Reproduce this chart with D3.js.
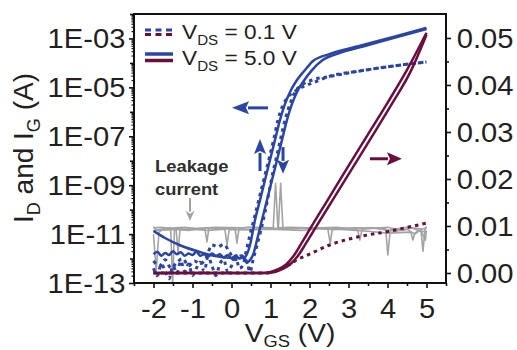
<!DOCTYPE html>
<html><head><meta charset="utf-8">
<script src="https://cdn.jsdelivr.net/npm/d3@7"></script>
<style>
body{margin:0;background:#fff}
svg{display:block}
text{font-family:"Liberation Sans",Arial,Helvetica,sans-serif;fill:#231f20}
</style>
</head><body>
<svg id="c" width="517" height="350"></svg>
<script>
// ---------- tick values ----------
const xTicks = [-2, -1, 0, 1, 2, 3, 4, 5];
const xMinorTicks = [-2.5, -1.5, -0.5, 0.5, 1.5, 2.5, 3.5, 4.5, 5.5];
const leftLabelTicks = [1e-3, 1e-5, 1e-7, 1e-9, 1e-11, 1e-13];
const leftDecadeTicks = [1e-2, 1e-4, 1e-6, 1e-8, 1e-10, 1e-12];
const rightTicks = [0, 0.01, 0.02, 0.03, 0.04, 0.05];
const rightMinorTicks = [0.005, 0.015, 0.025, 0.035, 0.045];

// ---------- I_D, V_DS = 5.0 V (log axis) : two sweeps ----------
const id5a = [[-2,1.35e-11],[-1.705,6.9e-12],[-1.321,3.5e-12],[-0.808,1.85e-12],[-0.423,1.27e-12],[0.09,1.05e-12],[0.321,1.05e-12],[0.397,1.54e-12],[0.474,3.5e-12],[0.603,3.8e-11],[0.731,2.45e-10],[0.859,1.62e-9],[0.987,1.07e-8],[1.115,7.1e-8],[1.244,4.7e-7],[1.372,2.1e-6],[1.526,7.8e-6],[1.679,2.0e-5],[1.885,5.1e-5],[2.09,1.2e-4],[2.526,2.35e-4],[3.372,5.4e-4],[4.244,1.26e-3],[5,2.7e-3]];
const id5b = [[-2,1.5e-12],[-1.9,1.9e-12],[-1.8,1.3e-12],[-1.7,1.7e-12],[-1.6,1.4e-12],[-1.5,2.0e-12],[-1.4,1.5e-12],[-1.3,1.8e-12],[-1.2,1.3e-12],[-1.1,1.6e-12],[-1.0,1.4e-12],[-0.9,1.9e-12],[-0.8,1.3e-12],[-0.7,1.5e-12],[-0.6,1.2e-12],[-0.5,1.6e-12],[-0.4,1.3e-12],[-0.3,1.5e-12],[-0.2,1.1e-12],[-0.1,1.4e-12],[0,1.0e-12],[0.1,1.3e-12],[0.2,1.0e-12],[0.3,1.2e-12],[0.397,6.6e-13],[0.474,8.7e-13],[0.551,1.4e-12],[0.654,5.7e-12],[0.782,3.8e-11],[0.91,2.45e-10],[1.038,1.62e-9],[1.167,1.07e-8],[1.295,7.1e-8],[1.423,4.7e-7],[1.551,2.1e-6],[1.679,6.5e-6],[1.833,1.66e-5],[2.064,5.1e-5],[2.321,1.25e-4],[2.782,2.6e-4],[3.372,4.7e-4],[4.244,1.15e-3],[5,2.4e-3]];

// ---------- I_D, V_DS = 0.1 V (log axis) : two sweeps ----------
const id01a = [[-2,4e-13],[-1.9,2e-13],[-1.8,6e-13],[-1.7,3e-13],[-1.6,1.5e-13],[-1.5,5e-13],[-1.4,2.5e-13],[-1.3,8e-13],[-1.2,3e-13],[-1.1,6e-13],[-1.0,2e-13],[-0.9,4e-13],[-0.8,7e-13],[-0.7,3e-13],[-0.6,1.2e-12],[-0.5,5e-13],[-0.4,2e-13],[-0.3,6e-13],[-0.2,9e-13],[-0.1,3e-13],[0,5e-13],[0.1,1.5e-12],[0.2,4e-13],[0.295,5.4e-13],[0.372,1.85e-12],[0.474,9.2e-12],[0.603,6.0e-11],[0.731,4.0e-10],[0.859,2.6e-9],[0.987,1.74e-8],[1.09,8.5e-8],[1.192,4.7e-7],[1.321,1.9e-6],[1.474,4.5e-6],[1.679,7.8e-6],[1.885,1.15e-5],[2.141,1.66e-5],[2.474,2.7e-5],[3.295,4.7e-5],[4.192,7.6e-5],[5,1.1e-4]];
const id01b = [[-2,8e-13],[-1.85,5e-13],[-1.7,9e-13],[-1.55,4e-13],[-1.4,7e-13],[-1.25,1.0e-12],[-1.1,5e-13],[-0.95,8e-13],[-0.8,6e-13],[-0.65,1.1e-12],[-0.5,3.6e-12],[-0.35,3.0e-12],[-0.2,3.8e-12],[-0.05,1.8e-12],[0.1,9e-13],[0.25,1.3e-12],[0.4,7e-13],[0.474,2.8e-13],[0.551,8.7e-13],[0.654,3.5e-12],[0.756,1.48e-11],[0.859,7.9e-11],[0.962,5.2e-10],[1.064,3.5e-9],[1.167,1.74e-8],[1.269,9.3e-8],[1.372,4.7e-7],[1.5,2.1e-6],[1.628,6.5e-6],[1.808,1.26e-5],[2.064,2.0e-5],[2.474,2.7e-5],[3.295,4.7e-5],[4.192,7.6e-5],[5,1.1e-4]];

// ---------- I_D linear (right axis) ----------
const lin5a = [[-2,0],[0.8,0],[1.0,0.0002],[1.2,0.0008],[1.4,0.0018],[1.6,0.0037],[1.8,0.0064],[2.0,0.0092],[2.5,0.0160],[3.0,0.0228],[3.5,0.0295],[4.0,0.0362],[4.5,0.0432],[5.0,0.0511]];
const lin5b = [[-2,0],[0.9,0],[1.1,0.0002],[1.3,0.0008],[1.5,0.0018],[1.7,0.0036],[1.9,0.0062],[2.1,0.0089],[2.6,0.0156],[3.1,0.0223],[3.6,0.0290],[4.1,0.0358],[4.6,0.0430],[5.0,0.0507]];
const lin01 = [[-2,0],[0.9,0],[1.1,0.0003],[1.3,0.0010],[1.5,0.0019],[1.7,0.0029],[2.0,0.0040],[2.5,0.0059],[3.0,0.0072],[3.5,0.0081],[4.0,0.0088],[4.5,0.0097],[5.0,0.0106]];

// ---------- I_G leakage (log axis) ----------
const ig1 = [[-2,1.8e-11],[-1.8,1.9e-11],[-1.56,1.7e-11],[-1.51,1.0e-13],[-1.46,1.8e-11],[-1.2,1.9e-11],[-0.9,1.7e-11],[-0.4,1.9e-11],[0.25,1.8e-11],[0.6,1.9e-11],[1.07,1.8e-11],[1.13,1.2e-9],[1.19,1.8e-11],[1.5,1.9e-11],[2.0,1.8e-11],[2.47,1.6e-11],[2.53,4.3e-12],[2.59,1.7e-11],[3.2,1.8e-11],[3.95,1.7e-11],[4.01,1.4e-12],[4.07,1.5e-11],[4.5,1.9e-11],[4.9,1.6e-11],[5,1.8e-11]];
const ig2 = [[-2,2.0e-11],[-1.9,1.4e-11],[-1.42,1.6e-11],[-1.37,1.7e-12],[-1.32,1.5e-11],[-1.0,1.5e-11],[-0.68,1.6e-11],[-0.63,4.8e-12],[-0.58,1.7e-11],[0.5,1.5e-11],[0.9,1.7e-11],[1.2,1.7e-11],[1.26,1.2e-9],[1.32,1.6e-11],[2.2,1.8e-11],[2.6,1.5e-11],[3.1,1.7e-11],[3.24,1.4e-11],[3.29,5.7e-12],[3.35,1.6e-11],[4.0,1.9e-11],[4.4,1.4e-11],[4.6,1.8e-11],[4.86,1.3e-11],[4.91,2.0e-12],[4.96,1.5e-11],[5,2.0e-11]];
const ig3 = [[-2,1.0e-11],[-1.93,3e-13],[-1.86,1.2e-11],[-1.75,1.6e-11],[-1.3,1.5e-11],[-1.1,1.4e-11],[-0.95,1.6e-11],[-0.6,1.4e-11],[-0.17,1.6e-11],[-0.115,3.6e-12],[-0.06,1.5e-11],[0.4,1.5e-11],[1.0,1.6e-11],[1.8,1.4e-11],[2.3,1.7e-11],[2.9,1.5e-11],[3.5,1.3e-11],[4.0,1.1e-11],[4.6,1.2e-11],[4.65,5.7e-12],[4.7,1.1e-11],[4.8,1.4e-11],[5,1.2e-11]];
const ig4 = [[-2,1.4e-11],[-1.6,1.8e-11],[-1.2,1.6e-11],[-0.5,1.8e-11],[0.09,1.7e-11],[0.14,4.3e-12],[0.19,1.6e-11],[0.4,1.9e-11],[0.9,1.7e-11],[1.6,1.7e-11],[2.7,1.9e-11],[3.1,1.6e-11],[3.6,1.8e-11],[4.2,1.3e-11],[4.5,1.6e-11],[4.7,1.0e-11],[4.85,1.5e-11],[4.97,5.7e-12],[5,1.4e-11]];

// ---------- annotation arrows (data units) ----------
const arrowLeft = {x0: 0.936, x1: 0.013, i: 1.45e-6};
const arrowRight = {x0: 3.55, x1: 4.37, v: 0.0243};
const arrowUp = {v: 0.731, i0: 3.8e-9, i1: 7.8e-8};
const arrowDown = {v: 1.321, i0: 3.6e-8, i1: 2.9e-9};
const arrowLeak = {v: -1.064, i0: 3.0e-10, i1: 3.5e-11};

// ---------- layout ----------
const L = 134, R = 446, T = 14, B = 283;
const BLUE = "#2b45a6", MAROON = "#6b0e3e", GRAY = "#a3a3a3", INK = "#231f20";
const SX = 1.08;

const svg = d3.select("#c");
const x = d3.scaleLinear().domain([-2.5, 5.5]).range([L, R]);
const yL = d3.scaleLog().domain([1e-13, 1e-2]).range([B, T]);
const yR = d3.scaleLinear().domain([-0.00213, 0.0551]).range([B, T]);

svg.append("defs").append("clipPath").attr("id", "pc")
  .append("rect").attr("x", L).attr("y", T).attr("width", R - L).attr("height", B - T);

const plot = svg.append("g").attr("clip-path", "url(#pc)");
const lineLog = d3.line().x(d => x(d[0])).y(d => yL(d[1]));
const lineLogSmooth = d3.line().x(d => x(d[0])).y(d => yL(d[1])).curve(d3.curveMonotoneX);
const lineLin = d3.line().x(d => x(d[0])).y(d => yR(d[1])).curve(d3.curveMonotoneX);

[ig1, ig2, ig3, ig4].forEach(s => plot.append("path").attr("d", lineLog(s))
  .attr("fill", "none").attr("stroke", GRAY).attr("stroke-width", 1.6).attr("stroke-linejoin", "round"));

[id01a, id01b].forEach(s => plot.append("path").attr("d", lineLogSmooth(s))
  .attr("fill", "none").attr("stroke", BLUE).attr("stroke-width", 3).attr("stroke-dasharray", "3.5,4"));
[id5a, id5b].forEach(s => plot.append("path").attr("d", lineLogSmooth(s))
  .attr("fill", "none").attr("stroke", BLUE).attr("stroke-width", 2.5).attr("stroke-linejoin", "round"));

plot.append("path").attr("d", lineLin(lin01)).attr("fill", "none").attr("stroke", MAROON)
  .attr("stroke-width", 3).attr("stroke-dasharray", "3.5,4");
[lin5a, lin5b].forEach(s => plot.append("path").attr("d", lineLin(s))
  .attr("fill", "none").attr("stroke", MAROON).attr("stroke-width", 2.5));

function hArrow(xa, xb, yy, color, w, hl, hw) {
  const dir = Math.sign(xb - xa);
  const base = xb - dir * hl;
  svg.append("line").attr("x1", xa).attr("x2", base + dir * 1).attr("y1", yy).attr("y2", yy)
    .attr("stroke", color).attr("stroke-width", w);
  svg.append("path").attr("d", `M${xb},${yy}L${base},${yy - hw}L${base + dir * 3},${yy}L${base},${yy + hw}Z`).attr("fill", color);
}
function vArrow(xx, ya, yb, color, w, hl, hw) {
  const dir = Math.sign(yb - ya);
  const base = yb - dir * hl;
  svg.append("line").attr("x1", xx).attr("x2", xx).attr("y1", ya).attr("y2", base + dir * 1)
    .attr("stroke", color).attr("stroke-width", w);
  svg.append("path").attr("d", `M${xx},${yb}L${xx - hw},${base}L${xx},${base + dir * 3}L${xx + hw},${base}Z`).attr("fill", color);
}
hArrow(x(arrowLeft.x0), x(arrowLeft.x1), yL(arrowLeft.i), BLUE, 3, 17, 6.5);
hArrow(x(arrowRight.x0), x(arrowRight.x1), yR(arrowRight.v), MAROON, 3, 15, 6.5);
vArrow(x(arrowUp.v), yL(arrowUp.i0), yL(arrowUp.i1), BLUE, 3, 15, 6);
vArrow(x(arrowDown.v), yL(arrowDown.i0), yL(arrowDown.i1), BLUE, 3, 14, 6);
vArrow(x(arrowLeak.v), yL(arrowLeak.i0), yL(arrowLeak.i1), GRAY, 2, 10, 4.5);

const lk = svg.append("g").attr("transform", `translate(155,172) scale(${SX},1)`);
lk.append("text").attr("font-size", 17).attr("font-weight", "bold").style("fill", "#2e2e2e").text("Leakage");
lk.append("text").attr("y", 23).attr("font-size", 17).attr("font-weight", "bold").style("fill", "#2e2e2e").text("current");

svg.append("rect").attr("x", L).attr("y", T).attr("width", R - L).attr("height", B - T)
  .attr("fill", "none").attr("stroke", "#111").attr("stroke-width", 2);

function styleAxis(g) {
  g.select(".domain").remove();
  g.selectAll("line").attr("stroke", "#111").attr("stroke-width", 1.6);
}
const gx = svg.append("g").attr("transform", `translate(0,${B})`)
  .call(d3.axisBottom(x).tickValues(xTicks).tickSize(5).tickFormat(d => String(d)));
styleAxis(gx);
gx.selectAll("text").attr("font-size", 27).attr("y", 35).attr("dy", 0)
  .attr("transform", `scale(${SX},1)`).attr("font-family", null).attr("fill", INK);
svg.append("g").attr("transform", `translate(0,${B})`)
  .call(d3.axisBottom(x).tickValues(xMinorTicks).tickSize(3).tickFormat("")).call(styleAxis);

const fmtE = d => "1E-" + String(Math.round(-Math.log10(d))).padStart(2, "0");
const gl = svg.append("g").attr("transform", `translate(${L},0)`)
  .call(d3.axisLeft(yL).tickValues(leftLabelTicks).tickSize(5).tickPadding(3).tickFormat(fmtE));
styleAxis(gl);
gl.selectAll("text").attr("font-size", 27).attr("dy", "0.35em")
  .attr("transform", `scale(${SX},1)`).attr("font-family", null).attr("fill", INK);
svg.append("g").attr("transform", `translate(${L},0)`)
  .call(d3.axisLeft(yL).tickValues(leftDecadeTicks).tickSize(4).tickFormat("")).call(styleAxis);
const minorLog = [];
for (let e = -13; e < -2; e++) for (let k = 2; k <= 9; k++) minorLog.push(k * Math.pow(10, e));
svg.append("g").attr("transform", `translate(${L},0)`)
  .call(d3.axisLeft(yL).tickValues(minorLog).tickSize(2.5).tickFormat("")).call(styleAxis)
  .selectAll("line").attr("stroke-width", 1.2);

const gr = svg.append("g").attr("transform", `translate(${R},0)`)
  .call(d3.axisRight(yR).tickValues(rightTicks).tickSize(5).tickPadding(5).tickFormat(d3.format(".2f")));
styleAxis(gr);
gr.selectAll("text").attr("font-size", 27).attr("dy", "0.35em")
  .attr("transform", `scale(${SX},1)`).attr("font-family", null).attr("fill", INK);
svg.append("g").attr("transform", `translate(${R},0)`)
  .call(d3.axisRight(yR).tickValues(rightMinorTicks).tickSize(3).tickFormat("")).call(styleAxis);

const xt = svg.append("g").attr("transform", `translate(290,342) scale(${SX},1)`)
  .append("text").attr("text-anchor", "middle").attr("font-size", 26);
xt.append("tspan").text("V");
xt.append("tspan").attr("font-size", 17).attr("dy", 5).text("GS");
xt.append("tspan").attr("dy", -5).text(" (V)");

const yt = svg.append("text").attr("transform", "translate(33,148) rotate(-90)")
  .attr("text-anchor", "middle").attr("font-size", 28);
yt.append("tspan").text("I");
yt.append("tspan").attr("font-size", 18).attr("dy", 7).text("D");
yt.append("tspan").attr("dy", -7).text(" and I");
yt.append("tspan").attr("font-size", 18).attr("dy", 7).text("G");
yt.append("tspan").attr("dy", -7).text(" (A)");

const legendRows = [
  {label: " = 0.1 V", dash: "6,4.5", yb: 30, ym: 34.5, w: 3, ty: 39},
  {label: " = 5.0 V", dash: null, yb: 54, ym: 60.5, w: 3.5, ty: 65}
];
legendRows.forEach(r => {
  [[r.yb, BLUE], [r.ym, MAROON]].forEach(([yy, c]) => {
    const ln = svg.append("line").attr("x1", 145).attr("x2", 173).attr("y1", yy).attr("y2", yy)
      .attr("stroke", c).attr("stroke-width", r.w);
    if (r.dash) ln.attr("stroke-dasharray", r.dash);
  });
  const t = svg.append("g").attr("transform", `translate(182,${r.ty}) scale(${SX},1)`)
    .append("text").attr("font-size", 21);
  t.append("tspan").text("V");
  t.append("tspan").attr("font-size", 14).attr("dy", 6).text("DS");
  t.append("tspan").attr("dy", -6).text(r.label);
});
</script>
</body></html>
